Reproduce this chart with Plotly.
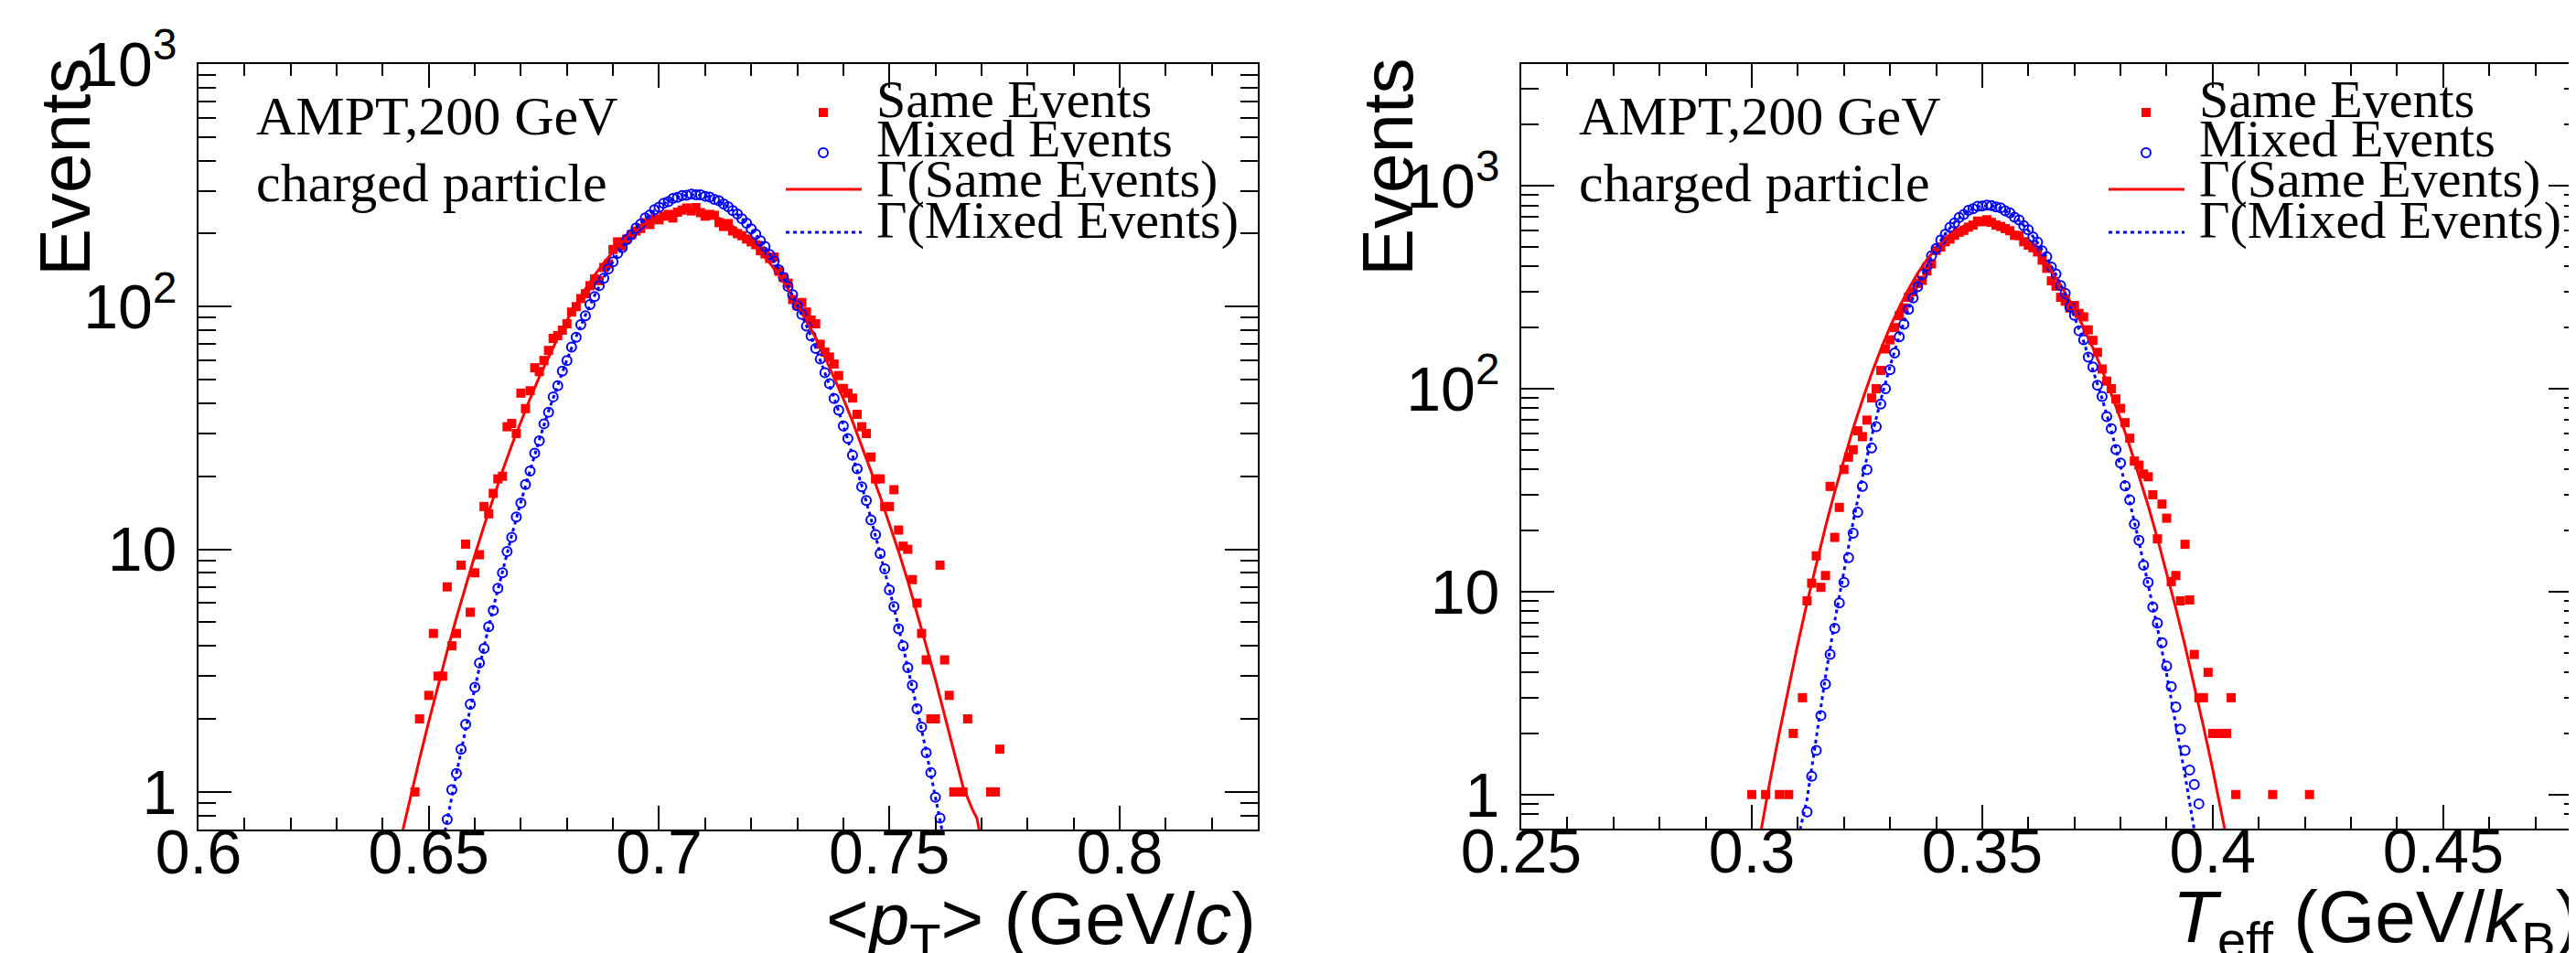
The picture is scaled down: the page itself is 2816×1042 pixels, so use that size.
import plotly.graph_objects as go

W, H = 2816, 1042

# ---------------- data: left panel, <pT> ----------------
PT_SAME_X = [0.647, 0.648, 0.650, 0.651, 0.652, 0.653, 0.654, 0.655, 0.656, 0.657, 0.658, 0.659,
             0.660, 0.661, 0.662, 0.663, 0.664, 0.665, 0.666, 0.667, 0.668, 0.669, 0.670, 0.671,
             0.672, 0.673, 0.674, 0.675, 0.676, 0.677, 0.678, 0.679, 0.680, 0.681, 0.682, 0.683,
             0.684, 0.685, 0.686, 0.687, 0.688, 0.689, 0.690, 0.691, 0.692, 0.693, 0.694, 0.695,
             0.696, 0.697, 0.698, 0.699, 0.700, 0.701, 0.702, 0.703, 0.704, 0.705, 0.706, 0.707,
             0.708, 0.709, 0.710, 0.711, 0.712, 0.713, 0.714, 0.715, 0.716, 0.717, 0.718, 0.719,
             0.720, 0.721, 0.722, 0.723, 0.724, 0.725, 0.726, 0.727, 0.728, 0.729, 0.730, 0.731,
             0.732, 0.733, 0.734, 0.735, 0.736, 0.737, 0.738, 0.739, 0.740, 0.741, 0.742, 0.743,
             0.744, 0.745, 0.746, 0.747, 0.748, 0.749, 0.750, 0.751, 0.752, 0.753, 0.754, 0.755,
             0.756, 0.757, 0.758, 0.759, 0.760, 0.761, 0.762, 0.763, 0.764, 0.765, 0.766, 0.767,
             0.772, 0.773, 0.774]
PT_SAME_Y = [1, 2, 2.5, 4.5, 3, 3, 7, 4, 4.5, 8.6, 10.5, 5.5,
             8, 9.5, 15, 14, 17, 19.5, 20, 32, 33, 30, 44, 38,
             45, 56, 54, 60, 66, 74, 76, 80, 85, 95, 100, 108,
             113, 122, 130, 128, 145, 150, 172, 185, 178, 190, 198, 205,
             210, 222, 218, 230, 228, 236, 240, 232, 245, 250, 255, 248,
             256, 244, 236, 240, 238, 222, 214, 220, 205, 200, 196, 190,
             185, 180, 170, 165, 158, 160, 140, 132, 125, 107, 101, 104,
             95, 88, 85, 70, 65, 62, 58, 52, 46, 44, 42, 36,
             32, 30, 24, 19.5, 19.5, 15, 15, 17.6, 12, 10.3, 10, 7.5,
             6, 4.5, 3.5, 2, 2, 8.6, 3.5, 2.5, 1, 1, 1, 2,
             1, 1, 1.5]

PT_MIXED_X = [0.654, 0.655, 0.656, 0.657, 0.658, 0.659, 0.660, 0.661, 0.662, 0.663, 0.664, 0.665,
              0.666, 0.667, 0.668, 0.669, 0.670, 0.671, 0.672, 0.673, 0.674, 0.675, 0.676, 0.677,
              0.678, 0.679, 0.680, 0.681, 0.682, 0.683, 0.684, 0.685, 0.686, 0.687, 0.688, 0.689,
              0.690, 0.691, 0.692, 0.693, 0.694, 0.695, 0.696, 0.697, 0.698, 0.699, 0.700, 0.701,
              0.702, 0.703, 0.704, 0.705, 0.706, 0.707, 0.708, 0.709, 0.710, 0.711, 0.712, 0.713,
              0.714, 0.715, 0.716, 0.717, 0.718, 0.719, 0.720, 0.721, 0.722, 0.723, 0.724, 0.725,
              0.726, 0.727, 0.728, 0.729, 0.730, 0.731, 0.732, 0.733, 0.734, 0.735, 0.736, 0.737,
              0.738, 0.739, 0.740, 0.741, 0.742, 0.743, 0.744, 0.745, 0.746, 0.747, 0.748, 0.749,
              0.750, 0.751, 0.752, 0.753, 0.754, 0.755, 0.756, 0.757, 0.758, 0.759, 0.760, 0.761]
PT_MIXED_Y = [0.77, 1.02, 1.19, 1.5, 1.9, 2.3, 2.7, 3.4, 3.9, 4.8, 5.6, 6.9,
              8.0, 9.8, 11.2, 13.6, 15.5, 18.5, 21.0, 24.9, 28.0, 32.9, 36.7, 42.5,
              47.2, 54.3, 60.0, 68.1, 74.8, 84.2, 91.7, 102, 110, 122, 131, 143,
              153, 166, 175, 189, 198, 211, 219, 232, 239, 251, 257, 267,
              271, 279, 282, 287, 288, 291, 289, 289, 285, 283, 277, 273,
              265, 258, 249, 241, 230, 221, 209, 199, 187, 177, 164, 154,
              142, 132, 121, 112, 101, 93.0, 83.1, 75.8, 67.2, 60.8, 53.4, 48.1,
              41.8, 37.4, 32.2, 28.6, 24.4, 21.5, 18.1, 15.9, 13.2, 11.5, 9.6, 8.3,
              6.8, 5.8, 4.7, 4.0, 3.25, 2.75, 2.2, 1.85, 1.45, 1.2, 0.95, 0.78]

PT_FIT_SAME_X = [0.644, 0.646, 0.648, 0.650, 0.652, 0.654, 0.656, 0.658, 0.660, 0.662, 0.664,
                 0.666, 0.668, 0.670, 0.672, 0.674, 0.676, 0.678, 0.680, 0.682, 0.684, 0.686,
                 0.688, 0.690, 0.692, 0.694, 0.696, 0.698, 0.700, 0.702, 0.704, 0.706, 0.708,
                 0.710, 0.712, 0.714, 0.716, 0.718, 0.720, 0.722, 0.724, 0.726, 0.728, 0.730,
                 0.732, 0.734, 0.736, 0.738, 0.740, 0.742, 0.744, 0.746, 0.748, 0.750, 0.752,
                 0.754, 0.756, 0.758, 0.760, 0.762, 0.764, 0.766, 0.768, 0.769, 0.771]
PT_FIT_SAME_Y = [0.65, 0.95, 1.37, 1.95, 2.74, 3.81, 5.22, 7.07, 9.46, 12.5, 16.3,
                 21.0, 26.8, 33.7, 41.8, 51.3, 62.1, 74.3, 87.8, 102.5, 118.3, 134.7,
                 151.5, 168.3, 184.6, 200.1, 214.2, 226.5, 236.5, 243.9, 248.5, 250, 248.5,
                 243.9, 236.5, 226.5, 214.2, 200.1, 184.6, 168.3, 151.5, 134.7, 118.3, 102.5,
                 87.8, 74.3, 62.1, 51.3, 41.8, 33.7, 26.8, 21.0, 16.5, 12.8, 9.8,
                 7.4, 5.5, 4.0, 2.9, 2.05, 1.45, 1.05, 0.85, 0.78, 0.5]

PT_FIT_MIXED_X = [0.652, 0.654, 0.656, 0.658, 0.660, 0.662, 0.664, 0.666, 0.668, 0.670, 0.672,
                  0.674, 0.676, 0.678, 0.680, 0.682, 0.684, 0.686, 0.688, 0.690, 0.692, 0.694,
                  0.696, 0.698, 0.700, 0.702, 0.704, 0.706, 0.708, 0.710, 0.712, 0.714, 0.716,
                  0.718, 0.720, 0.722, 0.724, 0.726, 0.728, 0.730, 0.732, 0.734, 0.736, 0.738,
                  0.740, 0.742, 0.744, 0.746, 0.748, 0.750, 0.752, 0.754, 0.756, 0.758, 0.760, 0.762]
PT_FIT_MIXED_Y = [0.49, 0.77, 1.19, 1.81, 2.70, 3.97, 5.74, 8.17, 11.4, 15.7, 21.3,
                  28.3, 37.1, 47.7, 60.4, 75.3, 92.3, 111.2, 131.8, 153.6, 176.2, 198.6,
                  220.3, 240.4, 257.9, 272.1, 282.5, 288.4, 289.5, 286.1, 277.8, 265.5, 249.5,
                  230.6, 209.6, 187.5, 164.8, 142.6, 121.3, 101.5, 83.5, 67.6, 53.8, 42.1,
                  32.5, 24.6, 18.3, 13.4, 9.68, 6.86, 4.78, 3.28, 2.21, 1.47, 0.96, 0.615]

# ---------------- data: right panel, T_eff ----------------
TE_SAME_X = [0.300, 0.303, 0.306, 0.308, 0.309, 0.311, 0.312, 0.313, 0.314, 0.315, 0.316, 0.317,
             0.318, 0.319, 0.320, 0.321, 0.322, 0.323, 0.324, 0.325, 0.326, 0.327, 0.328, 0.329,
             0.330, 0.331, 0.332, 0.333, 0.334, 0.335, 0.336, 0.337, 0.338, 0.339, 0.340, 0.341,
             0.342, 0.343, 0.344, 0.345, 0.346, 0.347, 0.348, 0.349, 0.350, 0.351, 0.352, 0.353,
             0.354, 0.355, 0.356, 0.357, 0.358, 0.359, 0.360, 0.361, 0.362, 0.363, 0.364, 0.365,
             0.366, 0.367, 0.368, 0.369, 0.370, 0.371, 0.372, 0.373, 0.374, 0.375, 0.376, 0.377,
             0.378, 0.379, 0.380, 0.381, 0.382, 0.383, 0.384, 0.385, 0.386, 0.387, 0.388, 0.389,
             0.390, 0.391, 0.392, 0.393, 0.394, 0.395, 0.396, 0.397, 0.398, 0.399, 0.400, 0.401,
             0.402, 0.403, 0.404, 0.405, 0.413, 0.421]
TE_SAME_Y = [1, 1, 1, 1, 2, 3, 9, 11, 15, 10.5, 12, 33,
             18.5, 26, 40, 46, 50, 62, 58, 70, 90, 100, 123, 157,
             174, 200, 229, 250, 282, 300, 330, 342, 380, 412, 480, 499,
             530, 546, 570, 590, 603, 625, 640, 670, 665, 680, 660, 640,
             630, 615, 600, 570, 568, 530, 510, 495, 472, 430, 392, 340,
             320, 282, 270, 250, 257, 235, 226, 195, 173, 151, 125, 109,
             100, 89, 80, 68, 57, 44, 42, 38, 36.8, 30, 18.2, 27,
             23, 11.2, 12, 9, 17.1, 9.1, 4.9, 3, 3, 4, 2, 2,
             2, 2, 3, 1, 1, 1]

TE_MIXED_X = [0.312, 0.313, 0.314, 0.315, 0.316, 0.317, 0.318, 0.319, 0.320, 0.321, 0.322, 0.323,
              0.324, 0.325, 0.326, 0.327, 0.328, 0.329, 0.330, 0.331, 0.332, 0.333, 0.334, 0.335,
              0.336, 0.337, 0.338, 0.339, 0.340, 0.341, 0.342, 0.343, 0.344, 0.345, 0.346, 0.347,
              0.348, 0.349, 0.350, 0.351, 0.352, 0.353, 0.354, 0.355, 0.356, 0.357, 0.358, 0.359,
              0.360, 0.361, 0.362, 0.363, 0.364, 0.365, 0.366, 0.367, 0.368, 0.369, 0.370, 0.371,
              0.372, 0.373, 0.374, 0.375, 0.376, 0.377, 0.378, 0.379, 0.380, 0.381, 0.382, 0.383,
              0.384, 0.385, 0.386, 0.387, 0.388, 0.389, 0.390, 0.391, 0.392, 0.393, 0.394, 0.395,
              0.396, 0.397]
TE_MIXED_Y = [0.82, 1.23, 1.65, 2.45, 3.5, 4.9, 6.6, 8.8, 11.1, 14.7, 19.4, 24.6,
              33.0, 39.9, 51.0, 65.0, 84.0, 100, 124, 150, 180, 208, 246, 280,
              318, 365, 402, 452, 490, 540, 578, 625, 656, 698, 722, 756,
              770, 792, 795, 803, 799, 786, 778, 752, 735, 700, 678, 636,
              607, 560, 528, 478, 447, 398, 368, 322, 295, 253, 230, 193,
              174, 143, 128, 104, 91.5, 72.8, 63.5, 50.1, 43.0, 33.2, 28.3, 21.5,
              17.9, 13.5, 11.1, 8.4, 7.0, 5.6, 4.3, 3.4, 2.7, 2.1, 1.65, 1.32,
              1.12, 0.9]

TE_FIT_SAME_X = [0.300, 0.302, 0.304, 0.306, 0.308, 0.310, 0.312, 0.314, 0.316, 0.318, 0.320,
                 0.322, 0.324, 0.326, 0.328, 0.330, 0.332, 0.334, 0.336, 0.338, 0.340, 0.342,
                 0.344, 0.346, 0.348, 0.350, 0.352, 0.354, 0.356, 0.358, 0.360, 0.362, 0.364,
                 0.366, 0.368, 0.370, 0.372, 0.374, 0.376, 0.378, 0.380, 0.382, 0.384, 0.386,
                 0.388, 0.390, 0.392, 0.394, 0.396, 0.398, 0.400, 0.402, 0.404]
TE_FIT_SAME_Y = [0.37, 0.67, 1.18, 2.02, 3.39, 5.53, 8.83, 13.7, 20.9, 31.0, 45.0,
                 63.7, 87.9, 118.6, 156, 201, 252, 309, 370, 432, 493, 549,
                 597, 634, 657, 665, 659, 639, 608, 567, 519, 465, 409,
                 352, 297, 246, 200, 159, 124, 94.7, 71.0, 52.1, 37.5, 26.5,
                 18.3, 12.4, 8.28, 5.40, 3.45, 2.16, 1.33, 0.80, 0.47]

TE_FIT_MIXED_X = [0.308, 0.310, 0.312, 0.314, 0.316, 0.318, 0.320, 0.322, 0.324, 0.326, 0.328,
                  0.330, 0.332, 0.334, 0.336, 0.338, 0.340, 0.342, 0.344, 0.346, 0.348, 0.350,
                  0.352, 0.354, 0.356, 0.358, 0.360, 0.362, 0.364, 0.366, 0.368, 0.370, 0.372,
                  0.374, 0.376, 0.378, 0.380, 0.382, 0.384, 0.386, 0.388, 0.390, 0.392, 0.394,
                  0.396, 0.398]
TE_FIT_MIXED_Y = [0.35, 0.6, 0.95, 1.95, 3.82, 7.15, 12.8, 22.1, 36.5, 57.9, 88.1,
                  129, 182, 246, 322, 406, 494, 581, 661, 726, 773, 797,
                  797, 775, 732, 674, 603, 524, 443, 364, 291, 226, 171,
                  125, 89.5, 62.2, 42.0, 27.6, 17.6, 10.9, 6.64, 3.92, 2.22, 1.24,
                  0.67, 0.4]

# ---------------- axis ticks / labels ----------------
PT_TICKS = [0.6, 0.65, 0.7, 0.75, 0.8]
PT_TICKTEXT = ["0.6", "0.65", "0.7", "0.75", "0.8"]
PT_MINOR = [0.61, 0.62, 0.63, 0.64, 0.66, 0.67, 0.68, 0.69, 0.71, 0.72, 0.73, 0.74,
            0.76, 0.77, 0.78, 0.79, 0.81, 0.82, 0.83]
TE_TICKS = [0.25, 0.3, 0.35, 0.4, 0.45]
TE_TICKTEXT = ["0.25", "0.3", "0.35", "0.4", "0.45"]
TE_MINOR = [0.26, 0.27, 0.28, 0.29, 0.31, 0.32, 0.33, 0.34, 0.36, 0.37, 0.38, 0.39,
            0.41, 0.42, 0.43, 0.44, 0.46, 0.47, 0.48]
Y_TICKS = [1, 10, 100, 1000]
Y_TICKTEXT = ["1", "10", "10<sup>2</sup>", "10<sup>3</sup>"]
Y_MINOR_L = [0.8, 0.9, 2, 3, 4, 5, 6, 7, 8, 9, 20, 30, 40, 50, 60, 70, 80, 90,
             200, 300, 400, 500, 600, 700, 800, 900]
Y_MINOR_R = Y_MINOR_L + [2000, 3000]

LEGEND_LABELS = ["Same Events", "Mixed Events", "\u0393(Same Events)", "\u0393(Mixed Events)"]
INFO_LINES = ["AMPT,200 GeV", "charged particle"]

RED = "#ff0000"
BLUE = "#0000ff"
SANS = "Liberation Sans, Arial, Helvetica, sans-serif"
SERIF = "Liberation Serif, Times New Roman, serif"


def px(x):
    return x / W


def py(y):
    return 1 - y / H


fig = go.Figure()

panels = [
    ("x", "y", PT_SAME_X, PT_SAME_Y, PT_MIXED_X, PT_MIXED_Y,
     PT_FIT_SAME_X, PT_FIT_SAME_Y, PT_FIT_MIXED_X, PT_FIT_MIXED_Y),
    ("x2", "y2", TE_SAME_X, TE_SAME_Y, TE_MIXED_X, TE_MIXED_Y,
     TE_FIT_SAME_X, TE_FIT_SAME_Y, TE_FIT_MIXED_X, TE_FIT_MIXED_Y),
]
for xa, ya, sx, sy, mx, my, fsx, fsy, fmx, fmy in panels:
    fig.add_trace(go.Scatter(x=sx, y=sy, mode="markers", name=LEGEND_LABELS[0],
                             marker=dict(symbol="square", size=10, color=RED),
                             xaxis=xa, yaxis=ya, showlegend=False))
    fig.add_trace(go.Scatter(x=mx, y=my, mode="markers", name=LEGEND_LABELS[1],
                             marker=dict(symbol="circle-open", size=10, color=BLUE,
                                         line=dict(width=2, color=BLUE)),
                             xaxis=xa, yaxis=ya, showlegend=False))
    fig.add_trace(go.Scatter(x=fsx, y=fsy, mode="lines", name=LEGEND_LABELS[2],
                             line=dict(color=RED, width=3),
                             xaxis=xa, yaxis=ya, showlegend=False))
    fig.add_trace(go.Scatter(x=fmx, y=fmy, mode="lines", name=LEGEND_LABELS[3],
                             line=dict(color=BLUE, width=3, dash="4px,4px"),
                             xaxis=xa, yaxis=ya, showlegend=False))

tickfont = dict(family=SANS, size=68, color="black")
common_x = dict(ticks="inside", ticklen=26, tickwidth=2, tickcolor="black",
                showline=True, linecolor="black", linewidth=2, mirror="allticks",
                showgrid=False, zeroline=False, tickfont=tickfont, tickmode="array",
                automargin=False, ticklabelstandoff=-36)
common_y = dict(type="log", ticks="inside", ticklen=36, tickwidth=2, tickcolor="black",
                showline=True, linecolor="black", linewidth=2, mirror="allticks",
                showgrid=False, zeroline=False, tickfont=tickfont, tickmode="array",
                tickvals=Y_TICKS, ticktext=Y_TICKTEXT, automargin=False,
                ticklabelstandoff=8)

fig.update_layout(
    template="none",
    width=W, height=H,
    margin=dict(l=0, r=0, t=0, b=0, pad=0),
    paper_bgcolor="white", plot_bgcolor="white",
    showlegend=False,
    xaxis=dict(domain=[px(209), px(1367)], range=[0.6, 0.83], anchor="y",
               tickvals=PT_TICKS, ticktext=PT_TICKTEXT,
               minor=dict(tickmode="array", tickvals=PT_MINOR, ticks="inside", ticklen=13,
                          tickwidth=2, tickcolor="black", showgrid=False),
               **common_x),
    yaxis=dict(domain=[py(899), py(62)], range=[-0.155, 3.0], anchor="x",
               minor=dict(tickmode="array", tickvals=Y_MINOR_L, ticks="inside", ticklen=19,
                          tickwidth=2, tickcolor="black", showgrid=False),
               **common_y),
    xaxis2=dict(domain=[px(1655), px(2814)], range=[0.25, 0.48], anchor="y2",
                tickvals=TE_TICKS, ticktext=TE_TICKTEXT,
                minor=dict(tickmode="array", tickvals=TE_MINOR, ticks="inside", ticklen=13,
                           tickwidth=2, tickcolor="black", showgrid=False),
                **common_x),
    yaxis2=dict(domain=[py(898), py(62)], range=[-0.168, 3.6], anchor="x2",
                minor=dict(tickmode="array", tickvals=Y_MINOR_R, ticks="inside", ticklen=19,
                           tickwidth=2, tickcolor="black", showgrid=False),
                **common_y),
)

annotations = []
shapes = []
for off, frame_right, xtitle, title_baseline in [
        (0, 1367, "&lt;<i>p</i><sub>T</sub>&gt; (GeV/<i>c</i>)", 1022),
        (1446, 2814, "<i>T</i><sub>eff</sub> (GeV/<i>k</i><sub>B</sub>)", 1020)]:
    # y-axis title
    annotations.append(dict(text="Events", textangle=-90, showarrow=False,
                            xref="paper", yref="paper", x=px(63 + off), y=py(175),
                            xanchor="center", yanchor="middle",
                            font=dict(family=SANS, size=78, color="black")))
    # x-axis title
    annotations.append(dict(text=xtitle, showarrow=False, xref="paper", yref="paper",
                            x=px(frame_right), y=py(title_baseline - 0.905 * 80),
                            xanchor="right", yanchor="top",
                            font=dict(family=SANS, size=80, color="black")))
    # info text
    for line, base in zip(INFO_LINES, [137, 210]):
        annotations.append(dict(text=line, showarrow=False, xref="paper", yref="paper",
                                x=px(270 + off), y=py(base - 0.891 * 60),
                                xanchor="left", yanchor="top",
                                font=dict(family=SERIF, size=60, color="black")))
    # legend text
    for lab, base in zip(LEGEND_LABELS, [118, 161, 205, 250]):
        annotations.append(dict(text=lab, showarrow=False, xref="paper", yref="paper",
                                x=px(948 + off), y=py(base - 0.891 * 58),
                                xanchor="left", yanchor="top",
                                font=dict(family=SERIF, size=58, color="black")))
    # legend symbols
    mx = 892 + off
    shapes.append(dict(type="rect", xref="paper", yref="paper",
                       x0=px(mx - 5), x1=px(mx + 5), y0=py(110), y1=py(120),
                       fillcolor=RED, line=dict(width=0)))
    shapes.append(dict(type="circle", xref="paper", yref="paper",
                       x0=px(mx - 5), x1=px(mx + 5), y0=py(154), y1=py(164),
                       fillcolor="rgba(0,0,0,0)", line=dict(color=BLUE, width=2)))
    shapes.append(dict(type="line", xref="paper", yref="paper",
                       x0=px(851 + off), x1=px(934 + off), y0=py(199), y1=py(199),
                       line=dict(color=RED, width=3)))
    shapes.append(dict(type="line", xref="paper", yref="paper",
                       x0=px(851 + off), x1=px(934 + off), y0=py(246), y1=py(246),
                       line=dict(color=BLUE, width=3, dash="4px,4px")))

fig.update_layout(annotations=annotations, shapes=shapes)

fig.write_html("out.html")
